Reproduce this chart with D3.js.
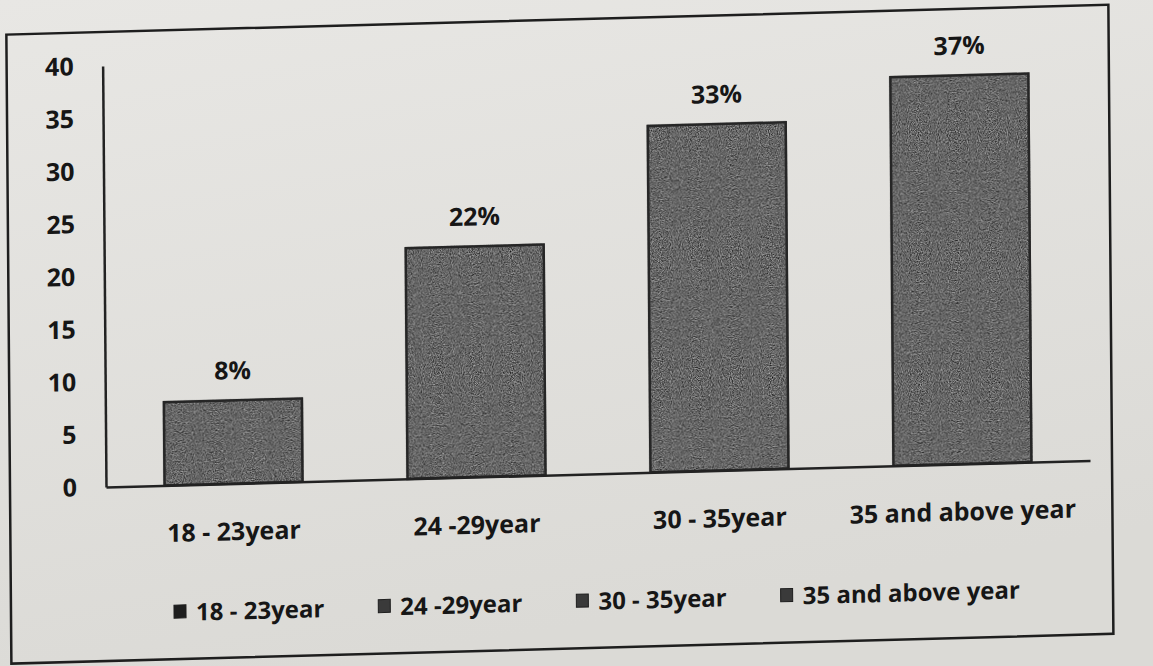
<html>
<head>
    <script src="https://d3js.org/d3.v7.min.js"></script>
    <style>
        body { margin: 0; background: #e4e3df; }
        text { font-family: "Open Sans", "DejaVu Sans", sans-serif; font-weight: bold; fill: #161616; }
    </style>
</head>

<body>
    <svg id="chart"></svg>

    <script>
        var Width = 1153, Height = 666;

        var categories = ["18 - 23year", "24 -29year", "30 - 35year", "35 and above year"];
        var values = [8, 22, 33, 37];
        var valueLabels = ["8%", "22%", "33%", "37%"];
        var yTicks = [0, 5, 10, 15, 20, 25, 30, 35, 40];

        // plot corner, the photo is a bit skewed around it
        var X0 = 106, Y0 = 487;
        var FontSize = "25px";

        var svg = d3.select("#chart")
            .attr("width", Width)
            .attr("height", Height);

        var defs = svg.append("defs");

        var paper = defs.append("linearGradient")
            .attr("id", "paper")
            .attr("x1", 0).attr("y1", 0).attr("x2", 0.3).attr("y2", 1);
        paper.append("stop").attr("offset", 0).attr("stop-color", "#e8e7e4");
        paper.append("stop").attr("offset", 1).attr("stop-color", "#dbdad6");

        // stipple texture of the printed bars
        var grain = defs.append("filter")
            .attr("id", "grain")
            .attr("color-interpolation-filters", "sRGB")
            .attr("x", 0).attr("y", 0).attr("width", 1).attr("height", 1);
        grain.append("feTurbulence")
            .attr("type", "fractalNoise")
            .attr("baseFrequency", 0.9)
            .attr("numOctaves", 2)
            .attr("seed", 4)
            .attr("result", "noise");
        grain.append("feColorMatrix")
            .attr("in", "noise")
            .attr("type", "saturate")
            .attr("values", 0)
            .attr("result", "gray");
        var ct = grain.append("feComponentTransfer")
            .attr("in", "gray")
            .attr("result", "tone");
        ct.append("feFuncR").attr("type", "linear").attr("slope", 1.1).attr("intercept", -0.15);
        ct.append("feFuncG").attr("type", "linear").attr("slope", 1.1).attr("intercept", -0.15);
        ct.append("feFuncB").attr("type", "linear").attr("slope", 1.1).attr("intercept", -0.15);
        ct.append("feFuncA").attr("type", "table").attr("tableValues", "1 1");
        grain.append("feComposite")
            .attr("in", "tone")
            .attr("in2", "SourceGraphic")
            .attr("operator", "in");

        svg.append("rect")
            .attr("width", Width)
            .attr("height", Height)
            .attr("fill", "url(#paper)");

        var g = svg.append("g")
            .attr("transform", "translate(" + X0 + "," + Y0 + ") matrix(1,-0.027,0.008,1,0,0) translate(" + (-X0) + "," + (-Y0) + ")");

        // frame
        g.append("rect")
            .attr("x", 10).attr("y", 32)
            .attr("width", 1102).attr("height", 629)
            .attr("fill", "none")
            .attr("stroke", "#1e1e1e")
            .attr("stroke-width", 2.5);

        var x = d3.scaleBand()
            .domain(categories)
            .range([X0, 1090])
            .paddingInner(0.424)
            .paddingOuter(0.237);

        var y = d3.scaleLinear()
            .domain([0, 40])
            .range([Y0, 66]);

        var bars = g.selectAll(".bar")
            .data(values)
            .enter()
            .append("g")
                .attr("class", "bar");

        bars.append("rect")
            .attr("x", function(d, i){ return x(categories[i]) })
            .attr("y", function(d){ return y(d) })
            .attr("width", x.bandwidth())
            .attr("height", function(d){ return Y0 - y(d) })
            .attr("fill", "#5c5c5c")
            .attr("filter", "url(#grain)");

        bars.append("rect")
            .attr("x", function(d, i){ return x(categories[i]) + 1 })
            .attr("y", function(d){ return y(d) + 1 })
            .attr("width", x.bandwidth() - 2)
            .attr("height", function(d){ return Y0 - y(d) - 1 })
            .attr("fill", "none")
            .attr("stroke", "#262626")
            .attr("stroke-width", 2.5);

        bars.append("text")
            .attr("x", function(d, i){ return x(categories[i]) + x.bandwidth()/2 })
            .attr("y", function(d){ return y(d) - 20 })
            .attr("text-anchor", "middle")
            .style("font-size", FontSize)
            .text(function(d, i){ return valueLabels[i] });

        var yAxis = g.append("g")
            .attr("transform", "translate(" + X0 + ",0)")
            .call(d3.axisLeft(y).tickValues(yTicks).tickSize(0).tickPadding(29));

        var xAxis = g.append("g")
            .attr("transform", "translate(0," + Y0 + ")")
            .call(d3.axisBottom(x).tickSize(0).tickPadding(39));

        [yAxis, xAxis].forEach(function(a){
            a.select(".domain")
                .attr("stroke", "#222")
                .attr("stroke-width", 2.5);
            a.selectAll("text")
                .attr("fill", "#161616")
                .style("font-family", "'Open Sans', sans-serif")
                .style("font-weight", "bold")
                .style("font-size", FontSize);
        });

        // legend
        var legend = g.append("g")
            .attr("transform", "translate(173,623)");
        var lx = 0;
        categories.forEach(function(c, i){
            var item = legend.append("g")
                .attr("transform", "translate(" + lx + ",0)");
            item.append("rect")
                .attr("x", 0).attr("y", -16)
                .attr("width", 12).attr("height", 13)
                .attr("fill", i == 0 ? "#1e1e1e" : "#3a3a3a")
                .attr("stroke", "#1e1e1e")
                .attr("stroke-width", 1);
            var t = item.append("text")
                .attr("x", 22)
                .attr("y", 0)
                .style("font-size", "24px")
                .text(c);
            lx += 22 + t.node().getComputedTextLength() + 54;
        });
    </script>
</body>
</html>
